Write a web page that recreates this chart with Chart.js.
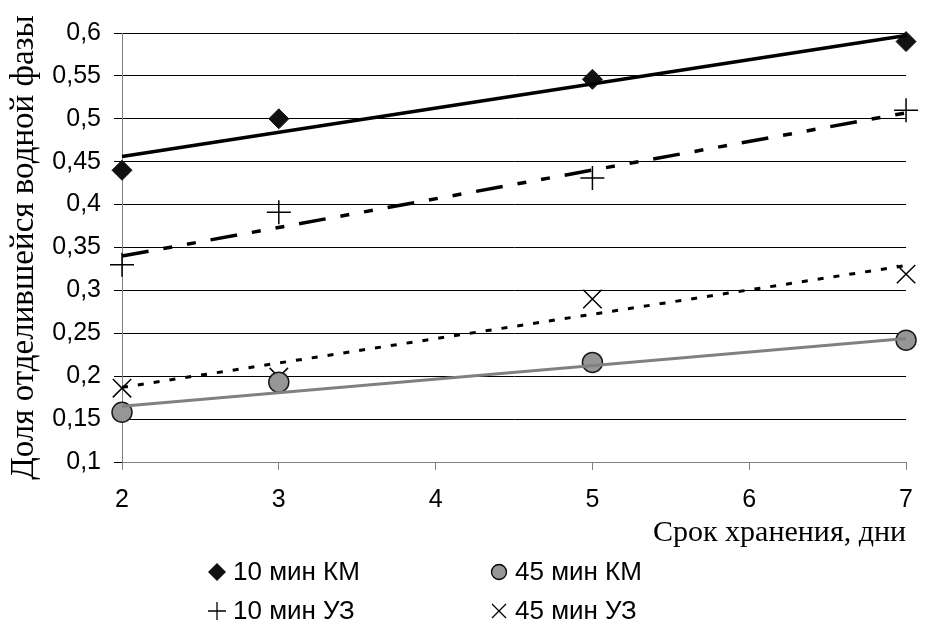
<!DOCTYPE html>
<html>
<head>
<meta charset="utf-8">
<script src="https://cdn.jsdelivr.net/npm/chart.js@4"></script>
<style>
  html, body { margin: 0; padding: 0; background: #fff; }
  #wrap { position: relative; width: 928px; height: 625px; }
</style>
</head>
<body>
<div id="wrap"><canvas id="chart" width="928" height="625"></canvas></div>
<script>
// storage days
const days = [2, 3, 5, 7];
const trendDays = [2, 7];

// share of separated water phase
const km10 = [0.44, 0.50, 0.546, 0.59];
const uz10 = [0.33, 0.391, 0.431, 0.51];
const km45 = [0.158, 0.193, 0.216, 0.242];
const uz45 = [0.186, 0.199, 0.29, 0.319];

// trend line ends read at day 2 and day 7
const km10Trend = [0.456, 0.597];
const uz10Trend = [0.340, 0.507];
const km45Trend = [0.165, 0.244];
const uz45Trend = [0.187, 0.329];

const seriesNames = ["10 мин КМ", "45 мин КМ", "10 мин УЗ", "45 мин УЗ"];

const sans = '"Liberation Sans", Arial, sans-serif';
const serif = '"Liberation Serif", "Times New Roman", serif';

const pts = (xs, ys) => xs.map((x, i) => ({ x, y: ys[i] }));

function trend(data, color, width, dash) {
  return {
    data: pts(trendDays, data),
    showLine: true,
    borderColor: color,
    borderWidth: width,
    borderDash: dash,
    pointRadius: 0,
    clip: false,
    order: 0
  };
}

function markers(label, data, style, radius, fill, stroke, bw) {
  return {
    label,
    data: pts(days, data),
    showLine: false,
    pointStyle: style,
    pointRadius: radius,
    backgroundColor: fill,
    borderColor: stroke,
    borderWidth: bw,
    clip: false,
    order: 1
  };
}

const legendPlugin = {
  id: "gridLegend",
  afterDraw(chart) {
    const ctx = chart.ctx;
    const colX = [217, 499];
    const rowY = [572, 611];
    ctx.save();
    ctx.font = "26px " + sans;
    ctx.textBaseline = "middle";
    seriesNames.forEach((name, i) => {
      const cx = colX[i % 2];
      const cy = rowY[Math.floor(i / 2)];
      ctx.strokeStyle = "#000";
      ctx.fillStyle = "#000";
      ctx.beginPath();
      if (i === 0) {
        ctx.fillStyle = "#111";
        ctx.moveTo(cx, cy - 9); ctx.lineTo(cx + 9, cy); ctx.lineTo(cx, cy + 9); ctx.lineTo(cx - 9, cy);
        ctx.closePath(); ctx.fill();
      } else if (i === 1) {
        ctx.fillStyle = "#969696";
        ctx.lineWidth = 1.3;
        ctx.arc(cx, cy, 7.5, 0, Math.PI * 2);
        ctx.fill(); ctx.stroke();
      } else if (i === 2) {
        ctx.lineWidth = 1.3;
        ctx.moveTo(cx - 9, cy); ctx.lineTo(cx + 9, cy);
        ctx.moveTo(cx, cy - 9); ctx.lineTo(cx, cy + 9);
        ctx.stroke();
      } else {
        ctx.lineWidth = 1.3;
        ctx.moveTo(cx - 7, cy - 7); ctx.lineTo(cx + 7, cy + 7);
        ctx.moveTo(cx + 7, cy - 7); ctx.lineTo(cx - 7, cy + 7);
        ctx.stroke();
      }
      ctx.fillStyle = "#000";
      ctx.fillText(name, cx + 16, cy + 1);
    });
    ctx.restore();
  }
};

new Chart(document.getElementById("chart"), {
  type: "scatter",
  data: {
    datasets: [
      trend(km10Trend, "#000", 3.5, []),
      trend(uz10Trend, "#000", 3.5, [27, 15, 9, 15, 9, 15]),
      trend(km45Trend, "#808080", 3, []),
      trend(uz45Trend, "#000", 3, [6, 10]),
      markers(seriesNames[0], km10, "rectRot", 10, "#111", "#111", 1),
      markers(seriesNames[1], km45, "circle", 10, "#969696", "#1a1a1a", 1.5),
      markers(seriesNames[2], uz10, "cross", 12, "#000", "#000", 1.5),
      markers(seriesNames[3], uz45, "crossRot", 13, "#000", "#000", 1.5)
    ]
  },
  options: {
    responsive: false,
    animation: false,
    events: [],
    layout: { padding: { left: 0, right: 13, top: 33, bottom: 74 } },
    plugins: {
      legend: { display: false },
      tooltip: { enabled: false }
    },
    scales: {
      x: {
        type: "linear",
        min: 2,
        max: 7,
        ticks: { stepSize: 1, color: "#000", padding: 15, font: { family: sans, size: 25 } },
        grid: { drawOnChartArea: false, drawTicks: true, tickLength: 8, color: "#808080" },
        border: { color: "#808080", width: 1 },
        title: {
          display: true,
          text: "Срок хранения, дни",
          align: "end",
          color: "#000",
          padding: 0,
          font: { family: serif, size: 30 }
        },
        afterFit(scale) { scale.height = 89; }
      },
      y: {
        min: 0.1,
        max: 0.6,
        ticks: {
          stepSize: 0.05,
          color: "#000",
          padding: 13,
          font: { family: sans, size: 25 },
          callback: v => String(+v.toFixed(2)).replace(".", ",")
        },
        grid: { color: "#000", lineWidth: 1, tickLength: 8 },
        border: { color: "#808080", width: 1 },
        title: {
          display: true,
          text: "Доля отделившейся водной фазы",
          color: "#000",
          padding: { top: 5, bottom: 0 },
          font: { family: serif, size: 33 }
        },
        afterFit(scale) { scale.width = 122; }
      }
    }
  },
  plugins: [legendPlugin]
});
</script>
</body>
</html>
